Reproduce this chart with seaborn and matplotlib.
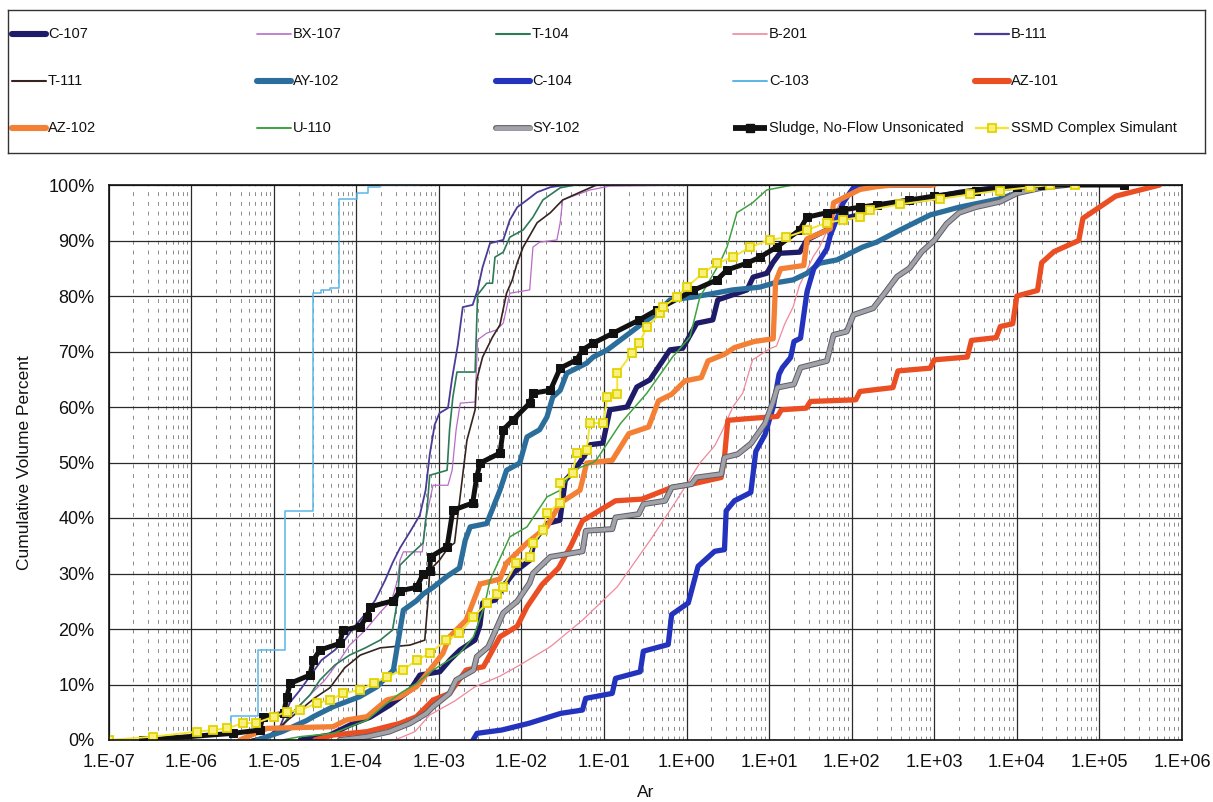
import matplotlib
matplotlib.use("Agg")
import matplotlib.pyplot as plt
import matplotlib.patheffects as pe
from matplotlib.ticker import FixedLocator, FixedFormatter, LogLocator, NullFormatter
import pandas as pd
import seaborn as sns

sns.set_theme(style="white")
plt.rcParams["font.family"] = ["Liberation Sans", "DejaVu Sans"]

# ---------------------------------------------------------------
# Cumulative volume percent versus Ar for each waste sample
# ---------------------------------------------------------------
c107_ar = [2.1e-5, 4.8e-5, 8.4e-5, 1.47e-4, 2.56e-4, 4.5e-4, 5.9e-4, 1.03e-3, 1.36e-3, 1.80e-3,
           2.74e-3, 3.15e-3, 3.4e-3, 4.8e-3, 6.3e-3, 8.3e-3, 1.27e-2, 1.45e-2, 2.04e-2, 2.93e-2,
           3.4e-2, 4.4e-2, 5.9e-2, 6.8e-2, 9.7e-2, 0.118, 0.19, 0.25, 0.36, 0.63,
           0.90, 1.33, 2.08, 2.39, 5.4, 6.4, 9.4, 11.1, 13.5, 23.5,
           28.6, 50, 62, 125, 219, 667, 2040, 6200, 25000]
c107_pct = [0, 0.9, 2.7, 4.1, 6.3, 9.0, 11.7, 12.3, 14.4, 16.2,
            18.0, 20.7, 24.7, 25.2, 28.0, 30.3, 32.4, 36.0, 39.0, 39.6,
            46.8, 48.6, 51.4, 53.2, 53.5, 59.5, 60.0, 63.6, 64.9, 70.3,
            70.6, 75.1, 75.7, 79.3, 81.1, 83.4, 84.1, 86.0, 87.7, 87.9,
            90.1, 91.9, 93.7, 94.6, 96.4, 97.3, 98.7, 99.6, 100]

bx107_ar = [6.76e-6, 1.20e-5, 1.82e-5, 2.75e-5, 4.17e-5, 6.31e-5, 8.32e-5, 1.29e-4, 1.95e-4, 2.69e-4,
            3.16e-4, 3.39e-4, 3.72e-4, 6.31e-4, 6.92e-4, 8.51e-4, 1.29e-3, 1.45e-3, 1.62e-3, 1.82e-3,
            2.75e-3, 2.95e-3, 3.80e-3, 5.01e-3, 6.03e-3, 7.24e-3, 1.26e-2, 1.38e-2, 1.66e-2, 2.69e-2,
            2.95e-2, 3.16e-2, 3.89e-2, 6.76e-2, 0.117, 1.10]
bx107_pct = [0, 1.8, 5.4, 8.1, 10.8, 14.4, 17.1, 19.8, 23.0, 25.2,
             28.8, 32.4, 33.9, 33.9, 39.6, 45.9, 45.9, 48.6, 55.9, 60.7,
             60.9, 72.1, 73.3, 73.9, 75.1, 80.5, 81.1, 88.8, 89.7, 90.1,
             93.2, 97.3, 97.8, 99.1, 99.8, 100]

t104_ar = [5.89e-6, 1.05e-5, 1.58e-5, 2.09e-5, 2.75e-5, 3.63e-5, 5.50e-5, 8.32e-5, 1.29e-4, 1.95e-4,
           2.75e-4, 3.16e-4, 3.39e-4, 4.47e-4, 6.46e-4, 7.24e-4, 7.76e-4, 1.26e-3, 1.35e-3, 1.48e-3,
           1.66e-3, 2.75e-3, 2.95e-3, 3.80e-3, 4.47e-3, 4.79e-3, 6.03e-3, 7.24e-3, 1.05e-2, 1.38e-2,
           1.82e-2, 2.95e-2, 4.47e-2]
t104_pct = [0, 0.9, 4.5, 6.3, 8.1, 10.8, 13.5, 15.3, 16.6, 18.0,
            19.8, 25.2, 31.5, 33.3, 35.5, 42.0, 47.7, 48.6, 55.9, 61.8,
            66.3, 66.3, 80.2, 82.3, 82.3, 87.0, 87.9, 90.6, 91.9, 94.2,
            97.3, 99.5, 100]

b201_ar = [2.95e-4, 5.13e-4, 7.76e-4, 1.55e-3, 2.75e-3, 5.50e-3, 9.55e-3, 2.24e-2, 5.50e-2, 0.145,
           0.363, 0.759, 1.45, 2.19, 2.75, 3.63, 4.79, 6.31, 10.2, 12.3,
           15.5, 19.5, 23.4, 28.8, 33.9, 40.7, 55.0, 72.4, 95.5, 126, 380]
b201_pct = [0, 1.5, 4.5, 7.0, 9.6, 11.5, 13.5, 16.8, 21.6, 27.6,
            36.0, 43.2, 49.9, 53.0, 55.9, 60.0, 62.5, 68.5, 70.5, 71.0,
            75.0, 78.0, 82.0, 84.7, 87.0, 88.8, 93.0, 97.0, 99.0, 100, 100]

b111_ar = [5.13e-6, 8.51e-6, 1.20e-5, 1.58e-5, 2.09e-5, 2.88e-5, 3.80e-5, 5.50e-5, 7.24e-5, 9.55e-5,
           1.29e-4, 1.70e-4, 2.24e-4, 2.75e-4, 3.39e-4, 4.47e-4, 5.89e-4, 6.92e-4, 7.76e-4, 8.91e-4,
           1.02e-3, 1.29e-3, 1.45e-3, 1.70e-3, 1.95e-3, 2.57e-3, 2.95e-3, 3.39e-3, 4.17e-3, 6.03e-3,
           7.24e-3, 8.91e-3, 1.17e-2, 1.55e-2, 2.24e-2, 3.39e-2]
b111_pct = [0, 0.7, 2.5, 6.8, 9.0, 11.9, 14.4, 16.2, 18.0, 20.5,
            22.7, 25.2, 28.8, 31.9, 34.6, 37.5, 40.5, 45.0, 51.4, 56.8,
            58.9, 59.8, 65.2, 71.2, 78.0, 78.4, 81.1, 85.2, 89.5, 90.1,
            93.7, 96.0, 97.3, 98.7, 99.6, 100]

t111_ar = [5.13e-6, 9.12e-6, 1.38e-5, 2.09e-5, 3.16e-5, 4.79e-5, 7.24e-5, 1.12e-4, 1.95e-4, 4.47e-4,
           6.76e-4, 7.41e-4, 7.76e-4, 1.02e-3, 1.29e-3, 1.55e-3, 2.19e-3, 2.75e-3, 2.88e-3, 3.39e-3,
           4.47e-3, 5.50e-3, 6.61e-3, 7.76e-3, 8.91e-3, 1.05e-2, 1.55e-2, 2.24e-2, 3.16e-2, 5.13e-2,
           8.13e-2]
t111_pct = [0, 0.9, 3.2, 5.4, 7.6, 9.4, 13.0, 15.3, 16.6, 17.1,
            18.0, 25.2, 30.6, 32.4, 34.6, 35.5, 54.0, 59.5, 64.9, 69.0,
            72.6, 74.8, 80.5, 82.9, 86.0, 88.8, 93.2, 95.0, 97.3, 98.7,
            100]

ay102_ar = [6.31e-6, 1.26e-5, 2.51e-5, 3.02e-5, 5.25e-5, 1.10e-4, 1.78e-4, 2.34e-4, 2.82e-4, 3.09e-4,
            3.72e-4, 5.37e-4, 6.46e-4, 8.51e-4, 1.26e-3, 1.78e-3, 2.09e-3, 2.40e-3, 3.80e-3, 5.50e-3,
            6.61e-3, 9.55e-3, 1.17e-2, 1.66e-2, 2.04e-2, 2.40e-2, 2.95e-2, 3.55e-2, 6.17e-2, 7.41e-2,
            0.110, 0.295, 0.437, 0.631, 1.20, 3.63, 7.76, 11.2, 19.5, 28.8,
            40.7, 66.1, 135, 200, 398, 891, 2000, 6170, 19100]
ay102_pct = [0, 1.5, 3.5, 4.2, 6.0, 7.8, 9.6, 11.4, 12.6, 16.2,
             23.4, 25.1, 26.3, 27.5, 29.5, 31.0, 36.0, 38.4, 39.0, 45.0,
             48.6, 49.9, 54.6, 55.9, 58.2, 61.8, 63.0, 66.1, 67.9, 69.0,
             70.3, 75.1, 76.9, 79.3, 79.8, 81.1, 81.6, 82.3, 82.9, 84.1,
             85.9, 86.5, 88.8, 89.7, 92.0, 94.6, 96.0, 97.5, 100]

c104_ar = [2.6e-3, 2.9e-3, 5.8e-3, 1.23e-2, 3.0e-2, 5.5e-2, 6.0e-2, 0.126, 0.138, 0.275,
           0.30, 0.60, 0.66, 1.05, 1.38, 2.19, 2.88, 3.02, 3.8, 6.0,
           6.9, 8.9, 11.2, 13.2, 14.5, 18.2, 20, 24, 26.3, 28.8,
           34.7, 45.7, 50, 55, 66, 79, 95, 105, 126, 912]
c104_pct = [0, 1.2, 1.8, 3.0, 4.8, 5.4, 7.5, 8.4, 11.1, 12.3,
            16.0, 17.2, 22.6, 24.7, 31.3, 34.0, 34.3, 41.3, 43.1, 44.6,
            52.0, 55.0, 60.0, 65.9, 67.1, 68.9, 71.8, 72.4, 76.6, 80.8,
            84.9, 87.6, 88.5, 90.9, 93.9, 96.8, 98.6, 99.5, 100, 100]

c103_ar = [1.29e-6, 3.02e-6, 6.46e-6, 1.38e-5, 3.02e-5, 3.72e-5, 4.79e-5, 6.17e-5, 1.02e-4, 1.38e-4,
           1.95e-4, 5.89e-4]
c103_pct = [0, 4.3, 16.2, 41.3, 80.5, 81.0, 81.5, 97.5, 98.5, 99.7,
            100, 100]

az101_ar = [3.16e-5, 5.25e-5, 1.35e-4, 3.39e-4, 5.37e-4, 8.51e-4, 1.35e-3, 2.14e-3, 3.47e-3, 5.50e-3,
            8.91e-3, 1.17e-2, 1.78e-2, 2.82e-2, 3.98e-2, 5.50e-2, 0.138, 0.288, 0.661, 1.15,
            2.63, 2.88, 3.16, 5.50, 12.6, 14.1, 28.2, 31.6, 112, 126,
            316, 363, 891, 1000, 2510, 2820, 5620, 6310, 8910, 10000,
            17800, 20000, 28200, 56200, 63100, 100000, 158000, 537000]
az101_pct = [0, 0.9, 1.5, 3.0, 4.2, 7.2, 8.4, 12.6, 13.2, 18.6,
             20.5, 24.0, 28.0, 31.0, 35.0, 39.5, 43.1, 43.4, 45.5, 46.1,
             47.3, 50.9, 57.6, 57.9, 58.3, 59.5, 59.8, 61.0, 61.3, 62.8,
             63.5, 66.5, 67.0, 68.5, 69.0, 72.0, 72.5, 74.5, 75.0, 80.0,
             81.0, 86.0, 88.0, 90.0, 94.0, 96.0, 98.0, 100]

az102_ar = [3.89e-6, 8.32e-6, 5.25e-5, 7.59e-5, 1.35e-4, 2.34e-4, 3.39e-4, 5.37e-4, 7.76e-4, 1.12e-3,
            1.35e-3, 2.14e-3, 3.16e-3, 5.50e-3, 6.61e-3, 1.17e-2, 2.04e-2, 2.95e-2, 5.13e-2, 6.17e-2,
            0.126, 0.200, 0.347, 0.457, 0.661, 0.955, 1.51, 1.82, 2.88, 3.80,
            6.61, 11.2, 12.0, 13.8, 26.3, 28.8, 55.0, 60.3, 87.1,
            126, 200, 316, 1000]
az102_pct = [0, 2.1, 2.4, 3.6, 4.2, 7.2, 7.8, 9.6, 12.6, 15.6,
             18.6, 21.6, 28.1, 29.0, 31.9, 35.5, 38.4, 42.7, 45.0, 49.9,
             50.4, 55.2, 56.4, 61.1, 62.3, 64.7, 65.3, 68.3, 69.5, 70.7,
             71.8, 72.3, 82.6, 84.9, 85.5, 90.3, 92.1, 96.8, 98.0,
             99.2, 99.7, 100, 100]

u110_ar = [1.26e-5, 2.09e-5, 5.25e-5, 1.35e-4, 2.34e-4, 3.39e-4, 5.37e-4, 8.51e-4, 1.78e-3, 2.63e-3,
           3.55e-3, 4.17e-3, 7.24e-3, 1.17e-2, 2.04e-2, 2.95e-2, 4.17e-2, 7.41e-2, 8.13e-2, 0.158,
           0.331, 0.676, 1.10, 1.45, 2.51, 3.09, 4.07, 6.31, 9.33, 19.5, 89.1]
u110_pct = [0, 0.6, 1.2, 3.6, 6.6, 8.4, 10.2, 12.6, 15.6, 18.6,
            24.0, 28.8, 36.6, 38.4, 43.8, 45.0, 48.6, 50.0, 50.5, 57.0,
            62.5, 69.0, 72.6, 79.8, 85.9, 88.8, 95.0, 96.8, 99.1, 100, 100]

sy102_ar = [6.31e-5, 1.35e-4, 2.51e-4, 4.47e-4, 7.08e-4, 8.51e-4, 1.35e-3, 1.62e-3, 2.63e-3, 2.88e-3,
            3.98e-3, 6.03e-3, 8.91e-3, 1.26e-2, 1.38e-2, 2.24e-2, 3.55e-2, 5.50e-2, 6.03e-2, 0.126,
            0.138, 0.263, 0.302, 0.550, 0.661, 1.15, 1.32, 2.63, 2.88, 4.17,
            6.03, 8.91, 11.2, 12.6, 20.0, 24.0, 50.1, 60.3, 87.1, 105,
            182, 251, 355, 501, 708, 1000, 1410, 2000, 3160, 6310,
            10000, 20000, 39800]
sy102_pct = [0, 0.6, 1.5, 3.0, 4.8, 6.0, 8.4, 10.8, 12.6, 15.0,
             16.8, 22.9, 25.0, 28.3, 30.0, 33.0, 33.5, 34.0, 37.7, 38.0,
             40.1, 40.7, 42.5, 43.1, 45.5, 46.1, 47.3, 47.9, 50.9, 51.5,
             53.4, 57.0, 61.0, 63.5, 64.1, 67.1, 68.3, 73.0, 73.6, 76.6,
             77.8, 80.5, 83.5, 85.0, 88.0, 90.0, 93.0, 95.0, 96.0, 97.0,
             98.5, 99.5, 100]

sludge_ar = [2.63e-7, 3.24e-6, 6.76e-6, 7.41e-6, 1.32e-5, 1.45e-5, 1.58e-5, 2.75e-5, 3.02e-5, 3.63e-5,
             6.31e-5, 6.92e-5, 1.10e-4, 1.35e-4, 1.48e-4, 2.82e-4, 3.39e-4, 5.37e-4, 6.46e-4, 7.76e-4,
             7.94e-4, 1.26e-3, 1.48e-3, 2.57e-3, 2.88e-3, 3.16e-3, 5.50e-3, 6.03e-3, 7.94e-3, 1.26e-2,
             1.38e-2, 2.24e-2, 2.95e-2, 4.68e-2, 5.50e-2, 7.41e-2, 0.129, 0.269, 0.437, 1.20,
             2.34, 3.09, 5.37, 7.76, 12.3, 23.4, 28.8, 50.1, 77.6, 126,
             200, 501, 1000, 3160, 10000, 20000, 200000]
sludge_pct = [0, 1.2, 1.8, 4.2, 4.8, 7.8, 10.2, 11.7, 14.4, 16.2,
              17.4, 19.8, 20.4, 22.2, 24.0, 25.1, 26.9, 27.5, 29.9, 30.5,
              33.0, 34.8, 41.4, 42.7, 47.4, 49.9, 51.7, 55.9, 57.7, 60.7,
              62.5, 63.0, 67.0, 68.5, 70.3, 71.5, 73.3, 75.7, 77.5, 81.0,
              82.9, 84.7, 85.9, 87.0, 88.8, 91.9, 94.2, 95.0, 95.5, 96.0,
              96.4, 97.3, 98.0, 99.0, 99.6, 100, 100]

ssmd_ar = [1.0e-7, 3.47e-7, 1.17e-6, 1.86e-6, 2.69e-6, 4.27e-6, 6.17e-6, 1.0e-5, 1.45e-5, 2.09e-5,
           3.31e-5, 4.79e-5, 6.92e-5, 1.10e-4, 1.62e-4, 2.34e-4, 3.72e-4, 5.37e-4, 7.76e-4, 1.23e-3,
           1.78e-3, 2.63e-3, 3.80e-3, 5.01e-3, 6.03e-3, 8.71e-3, 1.26e-2, 1.38e-2, 1.82e-2, 2.04e-2,
           2.95e-2, 2.95e-2, 4.17e-2, 4.68e-2, 6.17e-2, 6.76e-2, 9.77e-2, 0.110, 0.145, 0.145,
           0.219, 0.269, 0.331, 0.479, 0.513, 0.759, 1.00, 1.58, 2.34, 3.63,
           5.89, 10.2, 16.2, 28.8, 50.1, 77.6, 126, 166, 380, 1170,
           2690, 6170, 14500, 25100, 50100]
ssmd_pct = [0, 0.6, 1.5, 1.8, 2.1, 3.0, 3.1, 4.2, 5.1, 5.4,
            6.6, 7.2, 8.4, 9.0, 10.2, 11.4, 12.6, 14.4, 15.6, 18.0,
            19.2, 22.2, 24.6, 26.3, 27.6, 31.9, 33.0, 35.5, 37.8, 40.9,
            42.7, 46.3, 48.1, 51.7, 52.3, 57.1, 57.1, 61.8, 62.4, 66.1,
            69.7, 71.5, 74.4, 76.9, 78.0, 79.8, 81.6, 84.1, 85.9, 87.0,
            88.8, 90.1, 90.6, 91.9, 93.2, 93.7, 94.2, 95.5, 96.5, 97.5,
            98.3, 99.0, 99.6, 100, 100]

x_tick_values = [1e-7, 1e-6, 1e-5, 1e-4, 1e-3, 1e-2, 1e-1, 1e0, 1e1, 1e2, 1e3, 1e4, 1e5, 1e6]
x_tick_labels = ["1.E-07", "1.E-06", "1.E-05", "1.E-04", "1.E-03", "1.E-02", "1.E-01",
                 "1.E+00", "1.E+01", "1.E+02", "1.E+03", "1.E+04", "1.E+05", "1.E+06"]
y_tick_values = [0, 10, 20, 30, 40, 50, 60, 70, 80, 90, 100]
y_tick_labels = ["0%", "10%", "20%", "30%", "40%", "50%", "60%", "70%", "80%", "90%", "100%"]

# name, x, y, line colour, line width, extra plot options
SLUDGE = "Sludge, No-Flow Unsonicated"
SSMD = "SSMD Complex Simulant"
series = [
    ("C-107", c107_ar, c107_pct, "#1e1c68", 3.8, {}),
    ("BX-107", bx107_ar, bx107_pct, "#b86cc8", 0.9, {}),
    ("T-104", t104_ar, t104_pct, "#2c7a56", 1.2, {}),
    ("B-201", b201_ar, b201_pct, "#f0899b", 0.9, {}),
    ("B-111", b111_ar, b111_pct, "#4c3a98", 1.3, {}),
    ("T-111", t111_ar, t111_pct, "#35241f", 1.2, {}),
    ("AY-102", ay102_ar, ay102_pct, "#2b6e9c", 3.8, {}),
    ("C-104", c104_ar, c104_pct, "#2433bd", 3.8, {}),
    ("C-103", c103_ar, c103_pct, "#5ab6e8", 1.1, {"drawstyle": "steps-post"}),
    ("AZ-101", az101_ar, az101_pct, "#ea4e22", 3.8, {}),
    ("AZ-102", az102_ar, az102_pct, "#f38034", 3.8, {}),
    ("U-110", u110_ar, u110_pct, "#3fa23f", 1.1, {}),
    ("SY-102", sy102_ar, sy102_pct, "#a2a2aa", 2.8,
     {"path_effects": [pe.Stroke(linewidth=4.2, foreground="#5e5e66"), pe.Normal()]}),
    (SLUDGE, sludge_ar, sludge_pct, "#111111", 3.6,
     {"marker": "s", "markersize": 6, "markerfacecolor": "#111111", "markeredgecolor": "#111111"}),
    (SSMD, ssmd_ar, ssmd_pct, "#f2e535", 1.4,
     {"marker": "s", "markersize": 6, "markerfacecolor": "#f7f07a", "markeredgecolor": "#e2d200",
      "markeredgewidth": 1.3}),
]

W, H = 1213, 802
fig = plt.figure(figsize=(W / 100, H / 100), dpi=100)
fig.patch.set_facecolor("white")

# plot area in pixel units of the canvas
L_PX, R_PX, T_PX, B_PX = 108.5, 1182, 185, 740
ax = fig.add_axes([L_PX / W, 1 - B_PX / H, (R_PX - L_PX) / W, (B_PX - T_PX) / H])

for name, xs, ys, color, lw, extra in series:
    df = pd.DataFrame({"Ar": xs, "pct": ys})
    sns.lineplot(data=df, x="Ar", y="pct", ax=ax, color=color, linewidth=lw,
                 sort=False, estimator=None, legend=False, **extra)

ax.set_xscale("log")
ax.set_xlim(1e-7, 1e6)
ax.set_ylim(0, 100)

ax.xaxis.set_major_locator(FixedLocator(x_tick_values))
ax.xaxis.set_major_formatter(FixedFormatter(x_tick_labels))
ax.xaxis.set_minor_locator(LogLocator(base=10, subs=[2, 3, 4, 5, 6, 7, 8, 9], numticks=200))
ax.xaxis.set_minor_formatter(NullFormatter())
ax.yaxis.set_major_locator(FixedLocator(y_tick_values))
ax.yaxis.set_major_formatter(FixedFormatter(y_tick_labels))

ax.set_axisbelow(True)
ax.grid(True, which="major", axis="both", color="#2a2a2a", linewidth=0.9)
ax.grid(True, which="minor", axis="x", color="#8a8a8a", linewidth=0.7, linestyle=(0, (4, 6)))

ax.tick_params(axis="both", which="major", labelsize=13, length=4, width=1, direction="out",
               colors="#111111", pad=6)
ax.tick_params(axis="x", which="minor", length=0)
for sp in ax.spines.values():
    sp.set_color("#111111")
    sp.set_linewidth(1.2)

ax.set_xlabel("Ar", fontsize=12.5, color="#111111", labelpad=10)
ax.set_ylabel("Cumulative Volume Percent", fontsize=12.5, color="#111111", labelpad=12)

# ---------------------------------------------------------------
# legend panel above the plot (five columns, three rows)
# ---------------------------------------------------------------
LG_L, LG_T, LG_R, LG_B = 8, 10, 1205, 153
lg = fig.add_axes([LG_L / W, 1 - LG_B / H, (LG_R - LG_L) / W, (LG_B - LG_T) / H])
lg.set_xlim(LG_L, LG_R)
lg.set_ylim(LG_B, LG_T)
lg.set_xticks([])
lg.set_yticks([])
lg.set_facecolor("white")
for sp in lg.spines.values():
    sp.set_color("#333333")
    sp.set_linewidth(1.0)

col_x = [12, 257, 496, 733, 975]
row_y = [34, 81, 128]
for i, (name, xs, ys, color, lw, extra) in enumerate(series):
    r, c = divmod(i, 5)
    x0 = col_x[c]
    x1 = x0 + 34
    y = row_y[r]
    kw = {k: v for k, v in extra.items() if k != "drawstyle"}
    hl = lw + 0.6 if lw > 2 else lw + 0.3
    if "marker" in kw:
        lg.plot([x0, x1], [y, y], color=color, linewidth=hl, solid_capstyle="butt")
        lg.plot([(x0 + x1) / 2], [y], linestyle="none", **kw)
    else:
        lg.plot([x0, x1], [y, y], color=color, linewidth=hl, solid_capstyle="round", **kw)
    lg.text(x1 + 2, y, name, fontsize=10.5, va="center", ha="left", color="#111111")

fig.savefig("out.png", dpi=100, facecolor="white")
